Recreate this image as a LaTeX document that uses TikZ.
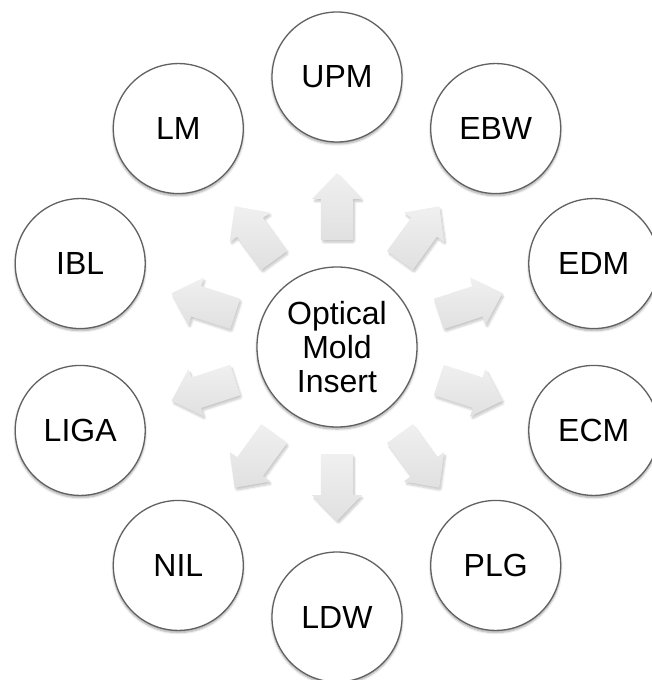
\documentclass[tikz,border=0pt]{standalone}
\usepackage{fontspec}
\setmainfont{Liberation Sans}
\usetikzlibrary{shadows.blur}

\tikzset{
  bubble/.style={circle, draw=black!62, line width=1.3pt, fill=white,
    inner sep=0pt, minimum size=130pt, align=center,
    font=\fontsize{32}{34}\selectfont,
    blur shadow={shadow xshift=0pt, shadow yshift=-2pt, shadow blur steps=6,
      shadow blur extra rounding=1.5pt, shadow opacity=35}},
  hubbubble/.style={bubble, minimum size=160pt},
  blockarrow/.style={top color=black!6, bottom color=black!12, draw=none,
    blur shadow={shadow xshift=1.5pt, shadow yshift=-2.5pt, shadow blur steps=6,
      shadow blur extra rounding=1.5pt, shadow opacity=22}}
}

\begin{document}
\begin{tikzpicture}[x=1pt, y=1pt]
  % canvas, 651 x 680, hub centred at (337,347) from the top left corner
  \useasboundingbox (-337,-333) rectangle (314,347);

  \node[hubbubble] (hub) at (0,0) {Optical\\Mold\\Insert};

  % outer ring of processes, every 36 degrees
  \foreach \ang/\name/\txt in {90/upm/UPM, 54/ebw/EBW, 18/edm/EDM,
      -18/ecm/ECM, -54/plg/PLG, -90/ldw/LDW, -126/nil/NIL,
      -162/liga/LIGA, 162/ibl/IBL, 126/lm/LM}{
    \node[bubble] (\name) at (\ang:270) {\txt};
    % block arrow from the hub towards the process
    \begin{scope}[shift={(hub.center)}, rotate=\ang]
      \path[blockarrow] (107,-16) -- (148,-16) -- (148,-25) -- (174,0)
        -- (148,25) -- (148,16) -- (107,16) -- cycle;
    \end{scope}
  }
\end{tikzpicture}
\end{document}
